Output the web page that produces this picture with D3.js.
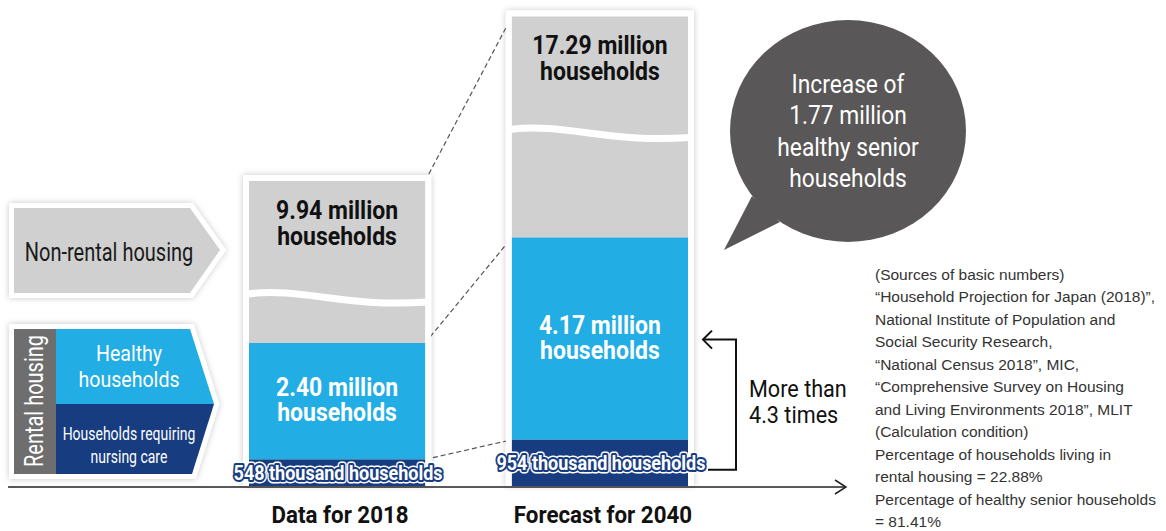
<!DOCTYPE html>
<html lang="en">
<head>
<meta charset="utf-8">
<title>Rental housing households 2018 / 2040</title>
<script src="https://d3js.org/d3.v7.min.js"></script>
<style>
  body { margin: 0; background: #fff; }
  .src { font-family: 'Liberation Sans', Arial, sans-serif; }
</style>
</head>
<body>
<script>
// data
const periods = ["Data for 2018", "Forecast for 2040"];
const nonRental = [9.94, 17.29];   // million households
const healthy = [2.40, 4.17];      // million households
const nursing = [0.548, 0.954];    // million households
const ratioText = ["More than", "4.3 times"];
const bubbleText = ["Increase of", "1.77 million", "healthy senior", "households"];
const sourceLines = [
  "(Sources of basic numbers)",
  "\u201cHousehold Projection for Japan (2018)\u201d,",
  "National Institute of Population and",
  "Social Security Research,",
  "\u201cNational Census 2018\u201d, MIC,",
  "\u201cComprehensive Survey on Housing",
  "and Living Environments 2018\u201d, MLIT",
  "(Calculation condition)",
  "Percentage of households living in",
  "rental housing = 22.88%",
  "Percentage of healthy senior households",
  "= 81.41%"
];

const w = 1166, h = 531;
const axisY = 487;
const gray = "#d0d0d0", blue = "#22ade4", navy = "#173c80";

const svg = d3.select("body").append("svg")
  .attr("width", w).attr("height", h);

const defs = svg.append("defs");
defs.append("filter").attr("id", "shadow")
  .attr("x", "-20%").attr("y", "-20%").attr("width", "140%").attr("height", "140%")
  .append("feDropShadow")
  .attr("dx", 0).attr("dy", 0).attr("stdDeviation", 3)
  .attr("flood-color", "#000").attr("flood-opacity", 0.22);

// condensed text: Roboto squeezed horizontally (no condensed face installed)
function ctext(parent, x, y, lines, o) {
  const g = parent.append("g")
    .attr("transform", `translate(${x},${y}) scale(${o.sx || 1},1)`);
  const t = g.append("text")
    .attr("font-family", "Roboto, 'Liberation Sans', sans-serif")
    .attr("font-size", o.size)
    .attr("font-weight", o.weight || 400)
    .attr("fill", o.fill || "#111")
    .attr("text-anchor", o.anchor || "middle");
  lines.forEach((l, j) => t.append("tspan").attr("x", 0).attr("y", j * (o.lh || 0)).text(l));
  return t;
}

// scales
const xScale = d3.scaleBand().domain(periods).range([249, 688]).paddingInner(0.33).paddingOuter(0);
const bw = xScale.bandwidth();
const yScale = d3.scaleLinear().domain([0, 10]).range([486, 1]);   // rental part, to scale
const breakScale = d3.scaleLinear().domain([9.94, 17.29]).range([162, 221]); // non-rental, broken axis

const bars = periods.map((p, i) => {
  const x0 = xScale(p);
  const yNav = yScale(nursing[i]);
  const yBlue = yScale(nursing[i] + healthy[i]);
  const yGray = yBlue - breakScale(nonRental[i]);
  return { p, i, x0, x1: x0 + bw, cx: x0 + bw / 2, yNav, yBlue, yGray };
});

// dashed connectors
["yGray", "yBlue", "yNav"].forEach(k => {
  svg.append("line")
    .attr("x1", bars[0].x1).attr("y1", bars[0][k])
    .attr("x2", bars[1].x0).attr("y2", bars[1][k])
    .attr("stroke", "#555").attr("stroke-width", 1.2)
    .attr("stroke-dasharray", "5,3");
});

// bars
bars.forEach(b => {
  const g = svg.append("g");
  g.append("rect")
    .attr("x", b.x0 - 6).attr("y", b.yGray - 6)
    .attr("width", bw + 12).attr("height", 486 - b.yGray + 6)
    .attr("fill", "#fff").attr("filter", "url(#shadow)");
  g.append("rect").attr("x", b.x0).attr("y", b.yGray)
    .attr("width", bw).attr("height", b.yBlue - b.yGray).attr("fill", gray);
  g.append("rect").attr("x", b.x0).attr("y", b.yBlue)
    .attr("width", bw).attr("height", b.yNav - b.yBlue).attr("fill", blue);
  g.append("rect").attr("x", b.x0).attr("y", b.yNav)
    .attr("width", bw).attr("height", 486 - b.yNav).attr("fill", navy);

  // wave break
  const yc = b.yGray + 118;
  g.append("path")
    .attr("d", `M${b.x0 - 2},${yc - 5} C${b.x0 + bw * 0.3},${yc - 12} ${b.x0 + bw * 0.55},${yc + 9} ${b.x1 + 2},${yc + 3}`)
    .attr("fill", "none").attr("stroke", "#fff").attr("stroke-width", 7);

  // non-rental label
  ctext(g, b.cx, b.yGray + 38,
    [d3.format(".2f")(nonRental[b.i]) + " million", "households"],
    { size: 25, weight: 700, sx: 0.92, lh: 26 });

  // healthy label
  const mid = (b.yBlue + b.yNav) / 2;
  ctext(g, b.cx, mid - 5,
    [d3.format(".2f")(healthy[b.i]) + " million", "households"],
    { size: 25, weight: 700, sx: 0.92, lh: 25, fill: "#fff" });

  // nursing label with outline
  const navMid = (b.yNav + 486) / 2;
  const lbl = Math.round(nursing[b.i] * 1000) + " thousand households";
  [["#fff", 7], [navy, 4]].forEach(([c, sw]) => {
    ctext(g, b.cx + 1, navMid + 7, [lbl], { size: 20, weight: 700, sx: 0.9, fill: "#fff" })
      .attr("stroke", c).attr("stroke-width", sw)
      .attr("stroke-linejoin", "round").attr("paint-order", "stroke");
  });
});

// axis
svg.append("line").attr("x1", 8).attr("x2", 846).attr("y1", axisY).attr("y2", axisY)
  .attr("stroke", "#222").attr("stroke-width", 1.5);
svg.append("polyline").attr("points", `835,480 846,${axisY} 835,494`)
  .attr("fill", "none").attr("stroke", "#222").attr("stroke-width", 1.5);

bars.forEach(b => {
  ctext(svg, b.cx + 3, 523, [b.p], { size: 24, weight: 700, sx: 0.93 });
});

// bracket arrow
const b2 = bars[1];
const topY = (b2.yBlue + b2.yNav) / 2 + 1;
const botY = (b2.yNav + 486) / 2 + 7;
svg.append("path")
  .attr("d", `M708,${botY} H736 V${topY} H703`)
  .attr("fill", "none").attr("stroke", "#111").attr("stroke-width", 2);
svg.append("path")
  .attr("d", `M712,${topY - 9} L703,${topY} L712,${topY + 9}`)
  .attr("fill", "none").attr("stroke", "#111").attr("stroke-width", 2);
ctext(svg, 749, 397, ratioText, { size: 23, sx: 0.94, lh: 26, anchor: "start" });

// speech bubble
const bub = svg.append("g");
bub.append("ellipse").attr("cx", 848).attr("cy", 131).attr("rx", 118).attr("ry", 111).attr("fill", "#595757");
bub.append("polygon").attr("points", "752,196 724,250 780,222").attr("fill", "#595757");
ctext(bub, 848, 93, bubbleText, { size: 25, sx: 0.91, lh: 31.5, fill: "#fff" });

// legend: non-rental
const nonPts = "14,208 190,208 220,250 190,293 14,293";
svg.append("polygon").attr("points", nonPts)
  .attr("fill", "#fff").attr("stroke", "#fff").attr("stroke-width", 10)
  .attr("stroke-linejoin", "miter").attr("filter", "url(#shadow)");
svg.append("polygon").attr("points", nonPts).attr("fill", gray);
ctext(svg, 109, 261, ["Non-rental housing"], { size: 25, sx: 0.8, fill: "#1a1a1a" });

// legend: rental
const rentPts = "14,329 190,329 214,404 192,474 14,474";
svg.append("polygon").attr("points", rentPts)
  .attr("fill", "#fff").attr("stroke", "#fff").attr("stroke-width", 10)
  .attr("stroke-linejoin", "miter").attr("filter", "url(#shadow)");
svg.append("rect").attr("x", 14).attr("y", 329).attr("width", 42).attr("height", 145).attr("fill", "#6e6e6e");
svg.append("polygon").attr("points", "56,329 190,329 214,404 56,404").attr("fill", blue);
svg.append("polygon").attr("points", "56,404 214,404 192,474 56,474").attr("fill", navy);
svg.append("g").attr("transform", "translate(43,401) rotate(-90)")
  .call(g => ctext(g, 0, 0, ["Rental housing"], { size: 25, sx: 0.8, fill: "#fff" }));
ctext(svg, 129, 361, ["Healthy", "households"], { size: 22, sx: 0.89, lh: 26, fill: "#fff" });
ctext(svg, 129, 440, ["Households requiring", "nursing care"], { size: 17.5, sx: 0.8, lh: 23, fill: "#fff" });

// sources
svg.append("text").attr("class", "src")
  .attr("font-size", 15.5).attr("fill", "#333")
  .selectAll("tspan").data(sourceLines).join("tspan")
  .attr("x", 875).attr("y", (d, j) => 280 + j * 22.45)
  .text(d => d);
</script>
</body>
</html>
